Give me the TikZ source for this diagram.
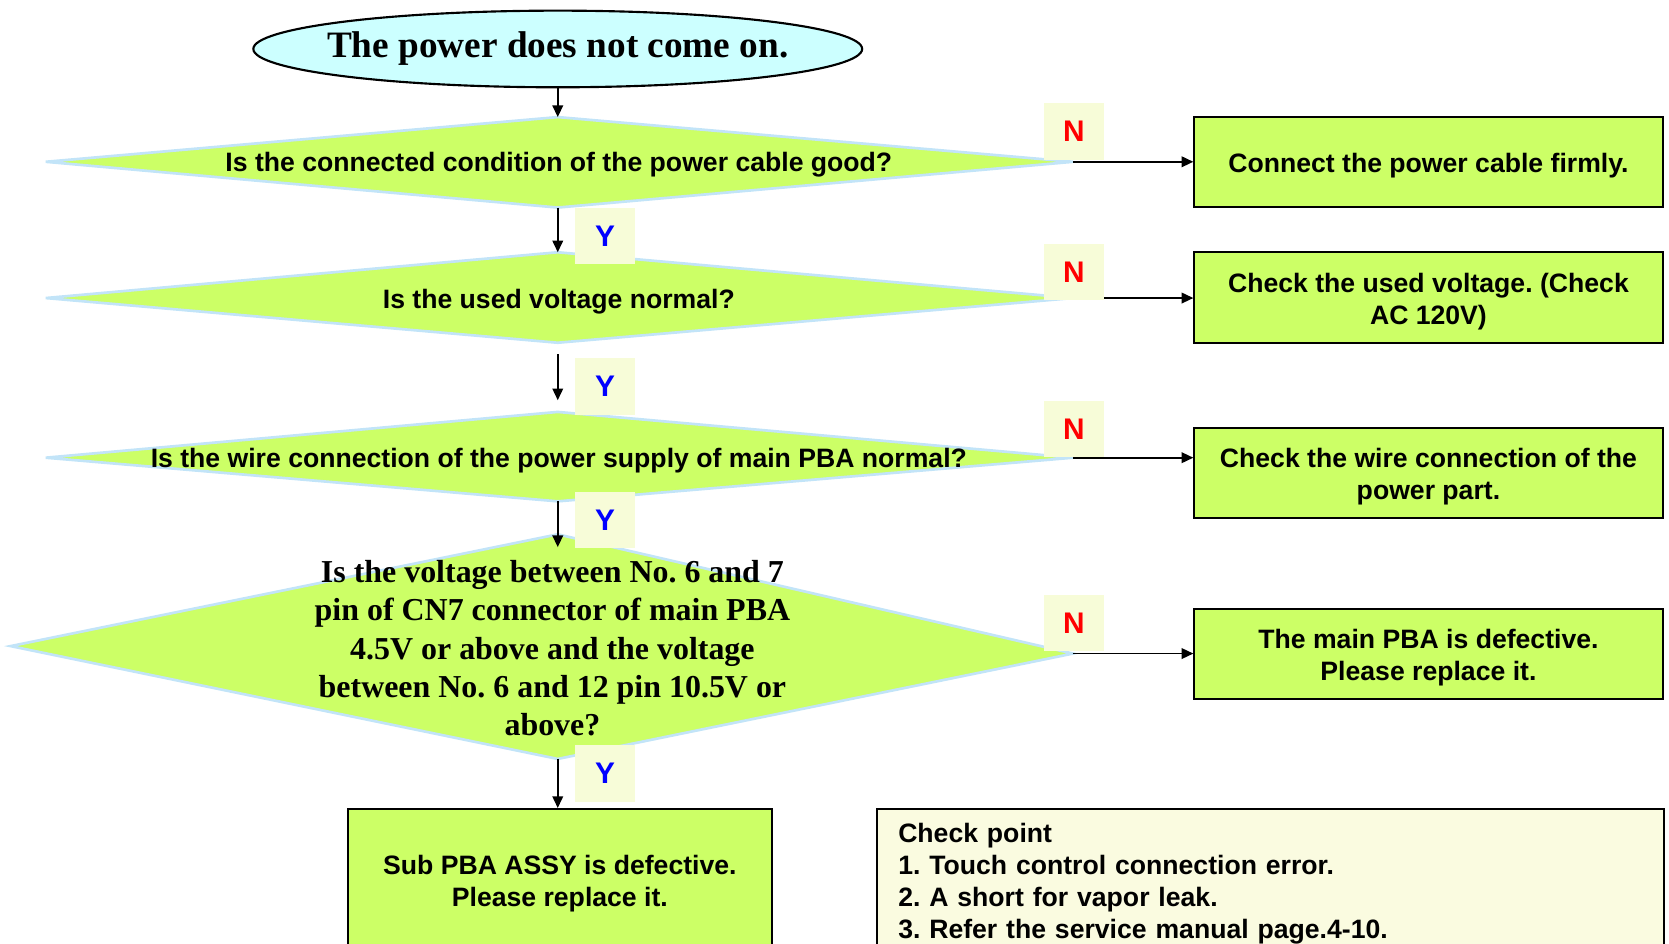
\documentclass[tikz,border=0pt]{standalone}
\usepackage{fontspec}
\setmainfont{Liberation Sans}
\newfontfamily\timesf{Liberation Serif}
\usetikzlibrary{arrows.meta,shapes.geometric}
\definecolor{lime}{HTML}{CCFF66}
\definecolor{startfill}{HTML}{CCFFFF}
\definecolor{diaedge}{HTML}{C2E4F8}
\definecolor{lblfill}{HTML}{F7FCD8}
\definecolor{notefill}{HTML}{FAFBE0}
\definecolor{yblue}{HTML}{0000FF}
\definecolor{nred}{HTML}{FF0000}
\frenchspacing
\newcommand\lowstrut{\rule{0pt}{25pt}}
\begin{document}
\begin{tikzpicture}[x=1pt,y=-1pt,
  dia/.style={fill=lime, draw=diaedge, line width=2.5pt, line join=miter},
  qtext/.style={font=\fontsize{25}{30}\selectfont\bfseries, inner sep=0},
  outbox/.style={draw=black, fill=lime, line width=1.8pt, minimum width=440, minimum height=85,
    align=center, font=\fontsize{25}{30}\selectfont\bfseries, inner sep=0},
  yn/.style={fill=lblfill, minimum width=57, minimum height=53, inner sep=0,
    font=\fontsize{28}{30}\selectfont\bfseries},
  arr/.style={line width=1.6pt, -{Triangle[length=11pt,width=10pt]}}
]
\useasboundingbox (0,0) rectangle (1568,886);
\clip (0,0) rectangle (1568,886);

% start ellipse
\node (start) [ellipse, draw=black, fill=startfill, line width=2pt, minimum width=572, minimum height=72, inner sep=0,
  font=\timesf\fontsize{35}{40}\selectfont\bfseries] at (524,46) {\makebox[0pt]{The power does not come on.}};

% diamond vertices
\coordinate (d1t) at (524,110); \coordinate (d1r) at (1008,152);
\coordinate (d1b) at (524,195); \coordinate (d1l) at (43,152);
\coordinate (d2t) at (524,237); \coordinate (d2r) at (1008,280);
\coordinate (d2b) at (524,322); \coordinate (d2l) at (43,280);
\coordinate (d3t) at (524,387); \coordinate (d3r) at (1008,430);
\coordinate (d3b) at (524,471); \coordinate (d3l) at (43,430);
\coordinate (d4t) at (524,502); \coordinate (d4r) at (1008,614);
\coordinate (d4b) at (524,713); \coordinate (d4l) at (10,607);

\draw[dia] (d1t) -- (d1r) -- (d1b) -- (d1l) -- cycle;
\draw[dia] (d2t) -- (d2r) -- (d2b) -- (d2l) -- cycle;
\draw[dia] (d3t) -- (d3r) -- (d3b) -- (d3l) -- cycle;
\draw[dia] (d4t) -- (d4r) -- (d4b) -- (d4l) -- cycle;

\node (q1) [qtext] at (525,155) {Is the connected condition of the power cable good?};
\node (q2) [qtext] at (525,283) {Is the used voltage normal?};
\node (q3) [qtext] at (525,433) {Is the wire connection of the power supply of main PBA normal?};
\node (q4) [align=center, inner sep=0, font=\timesf\fontsize{30}{36}\selectfont\bfseries] at (519,609)
  {Is the voltage between No. 6 and 7\\pin of CN7 connector of main PBA\\4.5V or above and the voltage\\between No. 6 and 12 pin 10.5V or\\above?};

% outcome boxes
\node (o1) [outbox] at (1342,152) {\lowstrut Connect the power cable firmly.};
\node (o2) [outbox] at (1342,279.5) {\lowstrut Check the used voltage. (Check\\AC 120V)};
\node (o3) [outbox] at (1342,444.5) {\lowstrut Check the wire connection of the\\power part.};
\node (o4) [outbox] at (1342,614.5) {\lowstrut The main PBA is defective.\\Please replace it.};
\node (sub) [outbox, minimum width=398, minimum height=140] at (526,830) {Sub PBA ASSY is defective.\\Please replace it.};
\node (note) [draw=black, fill=notefill, line width=1.8pt, anchor=north west, minimum width=739, minimum height=140,
  text width=699, inner xsep=20, inner ysep=0, align=left, font=\fontsize{25}{30}\selectfont\bfseries] at (823,759)
  {Check point\\1. Touch control connection error.\\2. A short for vapor leak.\\3. Refer the service manual page.4-10.};

% connectors
\draw[arr] (start.south) -- (d1t);
\draw[arr] (d1b) -- (d2t);
\draw[arr, shorten <=11pt, shorten >=11pt] (d2b) -- (d3t);
\draw[arr, shorten >=-12pt] (d3b) -- (d4t);
\draw[arr] (d4b) -- (d4b |- sub.north);
\draw[arr] (d1r) -- (d1r -| o1.west);
\draw[arr] (d2r) -- (d2r -| o2.west);
\draw[arr] (d3r) -- (d3r -| o3.west);
\draw[arr] (d4r) -- (d4r -| o4.west);

% Y / N labels
\node (y1) [yn, text=yblue] at (568.5,221.5) {Y};
\node (y2) [yn, text=yblue] at (568.5,363) {Y};
\node (y3) [yn, text=yblue] at (568.5,488.5) {Y};
\node (y4) [yn, text=yblue] at (568.5,726.5) {Y};
\node (n1) [yn, text=nred] at (1009,123.5) {N};
\node (n2) [yn, text=nred] at (1009,255.5) {N};
\node (n3) [yn, text=nred] at (1009,403) {N};
\node (n4) [yn, text=nred] at (1009,585.5) {N};
\end{tikzpicture}
\end{document}
